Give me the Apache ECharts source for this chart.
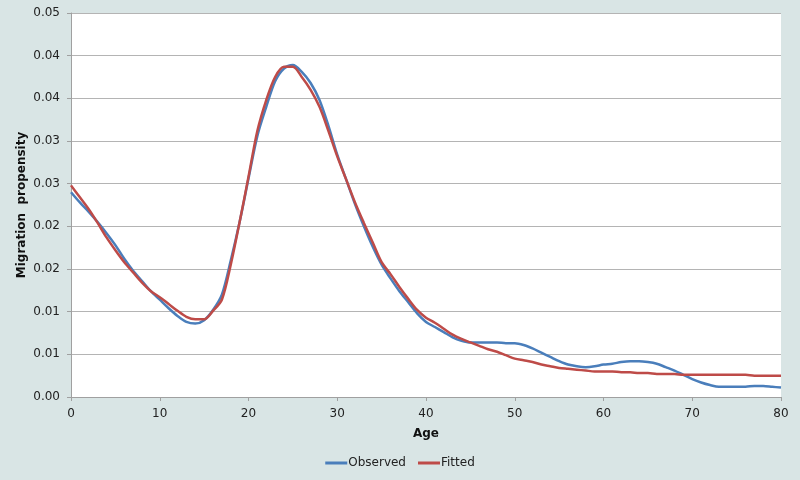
<!DOCTYPE html>
<html>

<head>
  <meta charset="utf-8" />
  <script src="https://cdn.jsdelivr.net/npm/echarts@6/dist/echarts.min.js"></script>
</head>

<body style="margin:0;background:#d9e5e5;">
  <div id="main" style="width: 800px;height:480px;"></div>
  <script type="text/javascript">
    var myChart = echarts.init(document.getElementById('main'));

    // ages 0..80
    var ages = []
    for (var a = 0; a <= 80; a++) ages.push(a)

    var observed = [
      0.0240, 0.0228, 0.0217, 0.0205, 0.0192, 0.0178, 0.0162, 0.0148, 0.0136, 0.0124,
      0.0114, 0.0104, 0.0095, 0.0088, 0.0086, 0.0090, 0.0102, 0.0120, 0.0160, 0.0205,
      0.0256, 0.0306, 0.0340, 0.0370, 0.0385, 0.0389, 0.0381, 0.0368, 0.0348, 0.0318,
      0.0284, 0.0255, 0.0226, 0.0200, 0.0176, 0.0155, 0.0139, 0.0124, 0.0111, 0.0098,
      0.0088, 0.0082, 0.0076, 0.0070, 0.0066, 0.0064, 0.0064, 0.0064, 0.0064, 0.0063,
      0.0063, 0.0061, 0.0057, 0.0052, 0.0047, 0.0042, 0.0038, 0.0036, 0.0035, 0.0036,
      0.0038, 0.0039, 0.0041, 0.0042, 0.0042, 0.0041, 0.0039, 0.0035, 0.0031, 0.0026,
      0.0021, 0.0017, 0.0014, 0.0012, 0.0012, 0.0012, 0.0012, 0.0013, 0.0013, 0.0012,
      0.0011
    ]

    var fitted = [
      0.0248, 0.0234, 0.0220, 0.0204, 0.0187, 0.0172, 0.0158, 0.0146, 0.0134, 0.0124,
      0.0117, 0.0109, 0.0101, 0.0094, 0.0091, 0.0091, 0.0101, 0.0114, 0.0155, 0.0205,
      0.0258, 0.0312, 0.0348, 0.0375, 0.0387, 0.0387, 0.0375, 0.0360, 0.0340, 0.0312,
      0.0282, 0.0255, 0.0228, 0.0204, 0.0181, 0.0158, 0.0144, 0.0129, 0.0115, 0.0102,
      0.0093, 0.0087, 0.0080, 0.0073, 0.0068, 0.0064, 0.0060, 0.0056, 0.0053, 0.0049,
      0.0045, 0.0043, 0.0041, 0.0038, 0.0036, 0.0034, 0.0033, 0.0032, 0.0031, 0.0030,
      0.0030, 0.0030, 0.0029, 0.0029, 0.0028, 0.0028, 0.0027, 0.0027, 0.0027, 0.0026,
      0.0026, 0.0026, 0.0026, 0.0026, 0.0026, 0.0026, 0.0026, 0.0025, 0.0025, 0.0025,
      0.0025
    ]

    // excel style labels, 2 decimals on a 0.005 step
    var yLabels = ['0.00', '0.01', '0.01', '0.02', '0.02', '0.03', '0.03', '0.04', '0.04', '0.05']

    function pairs(vals) {
      return ages.map(function (x, i) { return [x, vals[i]] })
    }

    var font = 'DejaVu Sans'

    var option = {
      backgroundColor: '#d9e5e5',
      textStyle: { fontFamily: font },
      grid: {
        left: 71,
        right: 19,
        top: 13,
        bottom: 83,
        show: true,
        backgroundColor: '#ffffff',
        borderWidth: 0
      },
      legend: {
        bottom: 6,
        left: 'center',
        itemWidth: 22,
        itemHeight: 3,
        itemGap: 12,
        icon: 'rect',
        textStyle: { fontFamily: font, fontSize: 12, color: '#222', padding: [0, 0, 0, -4] },
        data: ['Observed', 'Fitted']
      },
      xAxis: {
        type: 'value',
        min: 0,
        max: 80,
        interval: 10,
        name: 'Age',
        nameLocation: 'middle',
        nameGap: 31,
        nameTextStyle: { fontFamily: font, fontSize: 12, fontWeight: 'bold', color: '#111' },
        axisLine: { lineStyle: { color: '#a0a0a0', width: 1 } },
        axisTick: { show: true, length: 4, lineStyle: { color: '#a0a0a0' } },
        axisLabel: { fontFamily: font, fontSize: 12, color: '#222', margin: 11 },
        splitLine: { show: false }
      },
      yAxis: {
        type: 'value',
        min: 0,
        max: 0.045,
        interval: 0.005,
        name: 'Migration  propensity',
        nameLocation: 'middle',
        nameGap: 43,
        nameMoveOverlap: false,
        nameTextStyle: { fontFamily: font, fontSize: 12, fontWeight: 'bold', color: '#111' },
        axisLine: { show: true, lineStyle: { color: '#a0a0a0', width: 1 } },
        axisTick: { show: true, length: 4, lineStyle: { color: '#a0a0a0' } },
        axisLabel: {
          fontFamily: font, fontSize: 12, color: '#222', margin: 11,
          formatter: function (v) { return yLabels[Math.round(v / 0.005)] }
        },
        splitLine: { lineStyle: { color: '#b4b4b4', width: 1 } }
      },
      series: [
        {
          name: 'Observed',
          type: 'line',
          data: pairs(observed),
          smooth: 0.3,
          symbol: 'none',
          color: '#4a7ebb',
          lineStyle: { width: 2.5 }
        },
        {
          name: 'Fitted',
          type: 'line',
          data: pairs(fitted),
          smooth: 0.3,
          symbol: 'none',
          color: '#be4b48',
          lineStyle: { width: 2.5 }
        }
      ]
    };

    myChart.setOption(option);
  </script>
</body>

</html>
